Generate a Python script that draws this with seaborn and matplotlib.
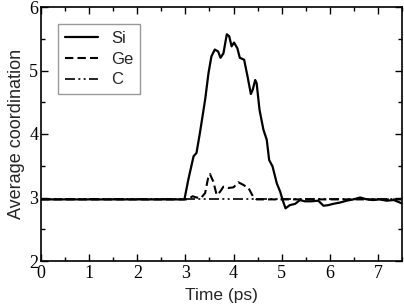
import matplotlib
matplotlib.use("Agg")
import matplotlib.pyplot as plt
from matplotlib.ticker import MultipleLocator
import seaborn as sns
import numpy as np

# Data
si_t = [0.0, 2.98, 3.06, 3.17, 3.23, 3.30, 3.41, 3.48, 3.54, 3.61, 3.68, 3.73, 3.79, 3.86, 3.91,
        3.96, 4.01, 4.08, 4.13, 4.22, 4.29, 4.36, 4.40, 4.45, 4.48, 4.54, 4.62, 4.69, 4.74, 4.81,
        4.90, 4.97, 5.02, 5.08, 5.17, 5.28, 5.38, 5.48, 5.62, 5.76, 5.87, 5.97, 6.07, 6.21, 6.35,
        6.49, 6.63, 6.77, 6.90, 7.04, 7.18, 7.33, 7.49]
si_v = [2.97, 2.97, 3.28, 3.65, 3.70, 4.01, 4.54, 4.96, 5.22, 5.33, 5.30, 5.20, 5.27, 5.57, 5.54,
        5.38, 5.44, 5.35, 5.20, 5.17, 4.91, 4.63, 4.70, 4.85, 4.80, 4.38, 4.07, 3.91, 3.59, 3.49,
        3.22, 3.09, 2.96, 2.83, 2.88, 2.90, 2.96, 2.94, 2.94, 2.95, 2.87, 2.88, 2.90, 2.92, 2.95,
        2.97, 3.00, 2.97, 2.96, 2.97, 2.95, 2.96, 2.91]

ge_t = [0.0, 3.05, 3.15, 3.23, 3.32, 3.41, 3.48, 3.51, 3.58, 3.65, 3.72, 3.79, 3.89, 4.00, 4.10,
        4.20, 4.31, 4.41, 4.48, 7.5]
ge_v = [2.97, 2.97, 3.02, 3.00, 2.99, 3.07, 3.34, 3.37, 3.25, 3.04, 3.09, 3.17, 3.15, 3.16, 3.24,
        3.20, 3.15, 3.01, 2.97, 2.97]

c_t = [0.0, 7.5]
c_v = [2.97, 2.97]

x_ticks = [0, 1, 2, 3, 4, 5, 6, 7]
y_ticks = [2, 3, 4, 5, 6]

sns.set_style("ticks")
plt.rcParams["font.family"] = ["Liberation Sans", "DejaVu Sans"]

fig = plt.figure(figsize=(4.04, 3.08), dpi=100)
ax = fig.add_axes([41/404, 47/308, 361/404, 254/308])

sns.lineplot(x=si_t, y=si_v, ax=ax, color="black", lw=1.6, label="Si", estimator=None, sort=False)
sns.lineplot(x=ge_t, y=ge_v, ax=ax, color="black", lw=1.5, label="Ge", estimator=None, sort=False,
             linestyle=(0, (4, 2)))
sns.lineplot(x=c_t, y=c_v, ax=ax, color="black", lw=1.2, label="C", estimator=None, sort=False,
             linestyle=(0, (6, 2, 1.2, 2, 1.2, 2)))

ax.set_xlim(0, 7.5)
ax.set_ylim(2, 6)
ax.set_xticks(x_ticks)
ax.set_yticks(y_ticks)
ax.xaxis.set_minor_locator(MultipleLocator(0.5))
ax.yaxis.set_minor_locator(MultipleLocator(0.5))
ax.tick_params(which="both", direction="in", top=True, right=True, color="black", width=1.0)
ax.tick_params(which="major", length=5)
ax.tick_params(which="minor", length=3)
for lab in ax.get_xticklabels() + ax.get_yticklabels():
    lab.set_fontfamily("Liberation Serif")
    lab.set_fontsize(13)
    lab.set_color("black")
ax.tick_params(axis="x", pad=3)
ax.tick_params(axis="y", pad=2)
for s in ax.spines.values():
    s.set_linewidth(1.2)
    s.set_color("black")
ax.set_xlabel("Time (ps)", fontsize=12.5, labelpad=4)
ax.set_ylabel("Average coordination", fontsize=13, labelpad=3)

leg = ax.legend(loc="upper left", bbox_to_anchor=(0.047, 0.933), borderaxespad=0,
                frameon=True, fancybox=False, fontsize=12, handlelength=2.0,
                labelspacing=0.35, borderpad=0.4, handletextpad=0.8)
leg.get_frame().set_edgecolor("#808080")
leg.get_frame().set_linewidth(1.0)

fig.savefig("out.png", dpi=100)
